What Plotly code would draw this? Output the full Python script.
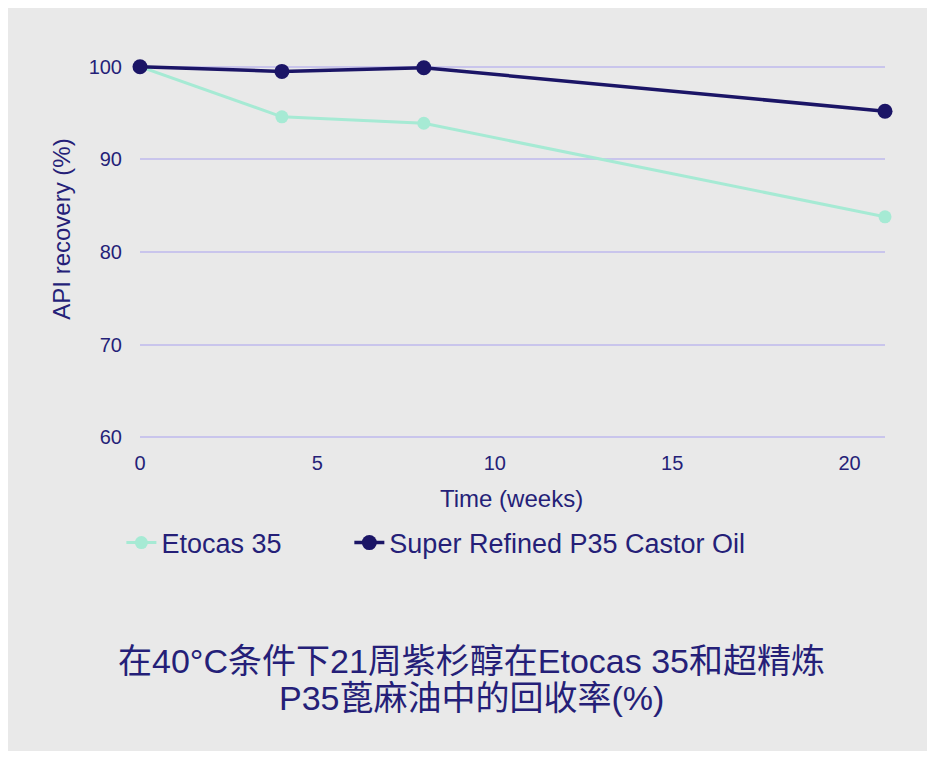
import plotly.graph_objects as go

weeks = [0, 4, 8, 21]
etocas = [100.0, 94.6, 93.9, 83.8]
castor = [100.0, 99.5, 99.9, 95.2]

y_ticks = [60, 70, 80, 90, 100]
x_ticks = [0, 5, 10, 15, 20]

title_1 = "在40°C条件下21周紫杉醇在Etocas 35和超精炼"
title_2 = "P35蓖麻油中的回收率(%)"

navy = "#1b1566"
mint = "#a6ead4"
txt = "#251f78"
bg = "#e9e9e9"
latin = "Liberation Sans, Arial, sans-serif"
cjk = "Liberation Sans, Noto Sans CJK SC, sans-serif"

fig = go.Figure()

fig.add_trace(go.Scatter(
    x=weeks, y=etocas, mode="lines+markers", name="Etocas 35",
    line=dict(color=mint, width=3),
    marker=dict(color=mint, size=13),
    cliponaxis=False, legend="legend", showlegend=True,
))
fig.add_trace(go.Scatter(
    x=weeks, y=castor, mode="lines+markers", name="Super Refined P35 Castor Oil",
    line=dict(color=navy, width=3.5),
    marker=dict(color=navy, size=15),
    cliponaxis=False, legend="legend2", showlegend=True,
))

leg = dict(
    orientation="h", y=-0.274, xanchor="left", yanchor="middle",
    font=dict(size=27, color=txt), bgcolor="rgba(0,0,0,0)",
)

fig.update_layout(
    width=919, height=743,
    margin=dict(l=132, r=42, t=56, b=311),
    paper_bgcolor=bg, plot_bgcolor=bg,
    font=dict(family=latin, color=txt, size=20),
    showlegend=True,
    legend=dict(leg, x=-0.025),
    legend2=dict(leg, x=0.281),
    xaxis=dict(
        range=[0, 21], tickvals=x_ticks, showgrid=False, zeroline=False,
        showline=False, ticks="", ticklabelstandoff=9,
    ),
    yaxis=dict(
        range=[59.7, 100.3], tickvals=y_ticks, showgrid=True, gridcolor="#c9c5ec",
        gridwidth=1.5, zeroline=False, showline=False, ticks="",
        ticklabelstandoff=17,
    ),
    annotations=[
        dict(text="Time (weeks)", x=0.498, y=-0.155, xref="paper", yref="paper",
             xanchor="center", yanchor="middle", showarrow=False,
             font=dict(family=latin, size=24, color=txt)),
        dict(text="API recovery (%)", x=-0.1047, y=0.562, xref="paper", yref="paper",
             xanchor="center", yanchor="middle", showarrow=False, textangle=-90,
             font=dict(family=latin, size=24, color=txt)),
        dict(text=title_1, x=0.4456, y=-0.587, xref="paper", yref="paper",
             xanchor="center", yanchor="middle", showarrow=False,
             font=dict(family=cjk, size=34, color=txt)),
        dict(text=title_2, x=0.4456, y=-0.686, xref="paper", yref="paper",
             xanchor="center", yanchor="middle", showarrow=False,
             font=dict(family=cjk, size=34, color=txt)),
    ],
)

fig.write_html("out.html")
